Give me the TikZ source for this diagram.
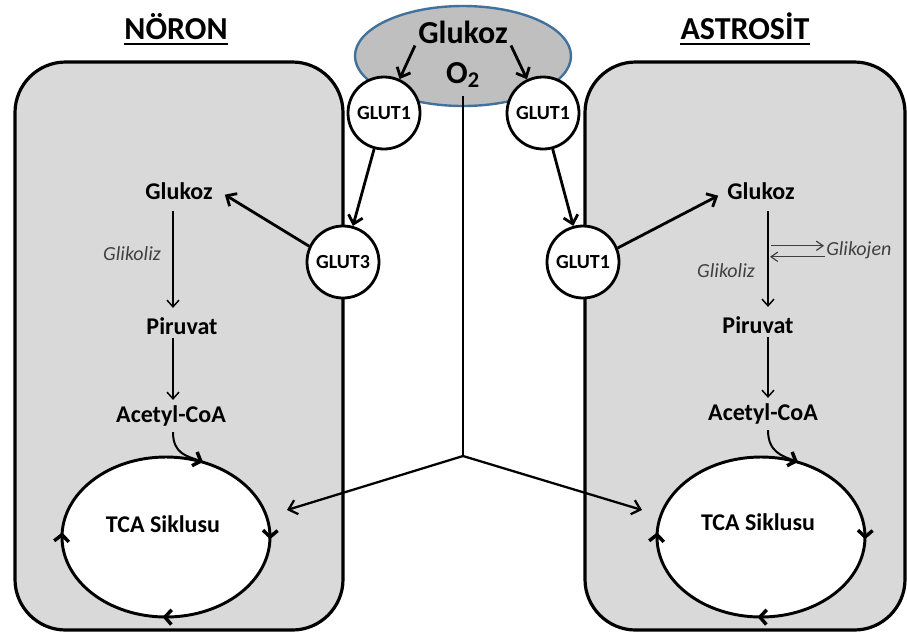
\documentclass[tikz,border=0pt]{standalone}
\usepackage{fontspec}
\setmainfont{Carlito}
\usetikzlibrary{arrows.meta,shapes.geometric,decorations.markings,calc}
\definecolor{cellgray}{HTML}{D9D9D9}
\definecolor{bloodgray}{HTML}{BFBFBF}
\definecolor{bloodblue}{HTML}{41719C}
\definecolor{textgray}{HTML}{404040}
\begin{document}
\begin{tikzpicture}[x=0.75pt,y=-0.75pt,
  cellbox/.style={draw,line width=2.4pt,fill=cellgray,rounded corners=38pt},
  glut/.style={circle,draw,line width=2.1pt,fill=white,minimum size=54pt,inner sep=0pt,
    font=\bfseries\fontsize{15}{15}\selectfont},
  lbl/.style={font=\bfseries\fontsize{18}{18}\selectfont,inner sep=0pt,anchor=base},
  bigl/.style={font=\bfseries\fontsize{24}{24}\selectfont,inner sep=0pt,anchor=base},
  ttl/.style={font=\bfseries\fontsize{24}{24}\selectfont,inner sep=0pt,anchor=base},
  proc/.style={font=\itshape\fontsize{15}{15}\selectfont,text=textgray,inner sep=0pt,anchor=base},
  thickarr/.style={line width=2.1pt,-{Straight Barb[length=6pt,width=11pt]}},
  medarr/.style={line width=1.7pt,-{Straight Barb[length=6pt,width=11pt]}},
  thinarr/.style={line width=1.1pt,-{Straight Barb[length=5pt,width=9pt]}},
  grayarr/.style={line width=0.9pt,draw=textgray,-{Straight Barb[length=5pt,width=7pt]}},
  cyctip/.style={line width=2.6pt},
  cycle/.style={line width=2.2pt,fill=white,postaction={decorate},
    decoration={markings,
      mark=at position 0.004 with {\arrow[cyctip]{Straight Barb[length=5pt,width=11pt]}},
      mark=at position 0.256 with {\arrow[cyctip]{Straight Barb[length=5pt,width=11pt]}},
      mark=at position 0.508 with {\arrow[cyctip]{Straight Barb[length=5pt,width=11pt]}}}},
  feed/.style={line width=1.5pt,-{Straight Barb[length=5pt,width=11pt,line width=2.6pt]}}
]
\useasboundingbox (0,0) rectangle (907,637);

% cells
\node[cellbox,minimum width=246pt,minimum height=426pt] (cellL) at (179,346) {};
\node[cellbox,minimum width=240pt,minimum height=426pt] (cellR) at (745,346) {};

% titles
\node[ttl] (tN) at (176,39) {NÖRON};
\node[ttl] (tA) at (745,39) {ASTROSİT};
\draw[line width=2.2pt] ($(tN.base west)+(0,5)$) -- ($(tN.base east)+(0,5)$);
\draw[line width=2.2pt] ($(tA.base west)+(0,5)$) -- ($(tA.base east)+(0,5)$);

% blood vessel
\node[ellipse,draw=bloodblue,line width=1.8pt,fill=bloodgray,minimum width=162pt,minimum height=75pt] (kan) at (463,56) {};
\node[bigl] (gtop) at (463,43) {Glukoz};
\node[bigl] (o2) at (463,83) {O\textsubscript{2}};

% O2 lines
\coordinate (junc) at (463,456);
\coordinate (tcainL) at (287,510);
\coordinate (tcainR) at (642,510);
\draw[line width=1.7pt,shorten <=6pt] (o2.south) -- (junc);
\draw[medarr] (junc) -- (tcainL);
\draw[medarr] (junc) -- (tcainR);

% transporters
\node[glut] (g1L) at (384,113) {GLUT1};
\node[glut] (g1R) at (543,113) {GLUT1};
\node[glut] (g3) at (343,262) {GLUT3};
\node[glut] (g1b) at (583,262) {GLUT1};

\draw[thickarr] ($(gtop.south west)+(-3,2)$) -- (g1L);
\draw[thickarr] ($(gtop.south east)+(3,2)$) -- (g1R);
\draw[thickarr] (g1L) -- (g3);
\draw[thickarr] (g1R) -- (g1b);

% neuron
\draw[cycle] (166,537) ellipse [x radius=104, y radius=80];
\node[lbl] (glukL) at (179,199) {Glukoz};
\node[lbl] (piruL) at (182,334) {Piruvat};
\node[lbl] (acL) at (171,422) {Acetyl-CoA};
\node[lbl] (tcaL) at (163,532) {TCA Siklusu};
\node[proc] (glikL) at (132,260) {Glikoliz};
\draw[thickarr] (g3.155) -- ($(glukL.east)+(12,4)$);
\draw[thinarr] ($(glukL.south -| 173,0)+(0,12)$) -- ($(piruL.north -| 173,0)+(0,-9)$);
\draw[thinarr] ($(piruL.south -| 173,0)+(0,4)$) -- ($(acL.north -| 173,0)+(0,-5)$);
\coordinate (tcatopL) at (203,462);
\draw[feed] ($(acL.south -| 173,0)+(0,6)$) .. controls +(0,22) and +(-16,-6) .. (tcatopL);

% astrocyte
\draw[cycle] (761,537) ellipse [x radius=104, y radius=80];
\node[lbl] (glukR) at (761,199) {Glukoz};
\node[lbl] (piruR) at (758,333) {Piruvat};
\node[lbl] (acR) at (763,420) {Acetyl-CoA};
\node[lbl] (tcaR) at (758,530) {TCA Siklusu};
\node[proc] (glikR) at (726,277) {Glikoliz};
\node[proc,anchor=base west] (glikoj) at (826,255) {Glikojen};
\draw[thickarr] (g1b.22) -- ($(glukR.west)+(-9,5)$);
\draw[thinarr] ($(glukR.south -| 768,0)+(0,12)$) -- ($(piruR.north -| 768,0)+(0,-9)$);
\draw[thinarr] ($(piruR.south -| 768,0)+(0,4)$) -- ($(acR.north -| 768,0)+(0,-5)$);
\draw[grayarr] ($(glikoj.west)+(-55,-4)$) -- ($(glikoj.west)+(-2,-4)$);
\draw[grayarr] ($(glikoj.west)+(-1,7)$) -- ($(glikoj.west)+(-56,7)$);
\coordinate (tcatopR) at (798,462);
\draw[feed] ($(acR.south -| 768,0)+(0,6)$) .. controls +(0,22) and +(-16,-6) .. (tcatopR);
\end{tikzpicture}
\end{document}
